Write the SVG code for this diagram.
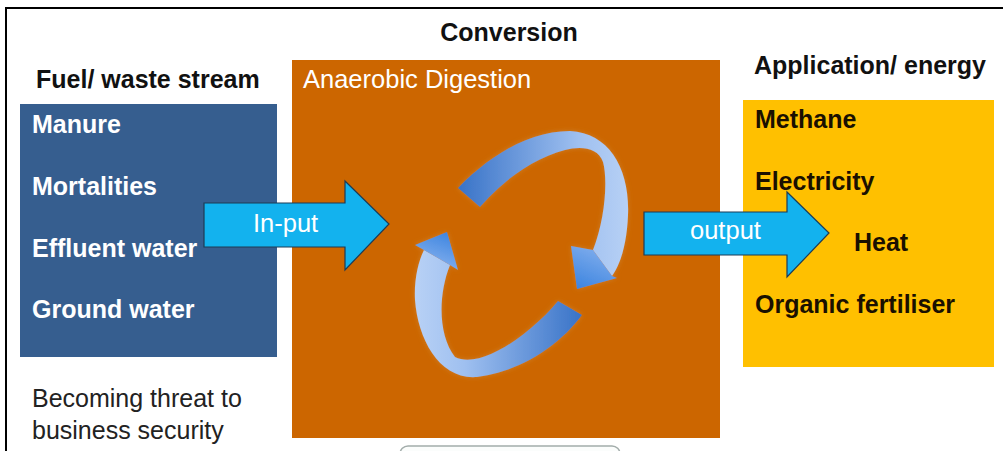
<svg xmlns="http://www.w3.org/2000/svg" width="1003" height="451" viewBox="0 0 1003 451">
<defs>
<style>
.hdr{font-family:"Liberation Sans",Arial,sans-serif;font-size:25px;font-weight:bold;fill:#111}
.itw{font-family:"Liberation Sans",Arial,sans-serif;font-size:25px;font-weight:bold;fill:#fff}
.itk{font-family:"Liberation Sans",Arial,sans-serif;font-size:25px;font-weight:bold;fill:#1a1000}
.lbl{font-family:"Liberation Sans",Arial,sans-serif;font-size:25.5px;fill:#fff}
.note{font-family:"Liberation Sans",Arial,sans-serif;font-size:25px;fill:#222}
.blk{fill:#13b2ee;stroke:#1d3b55;stroke-width:1.2}
</style>
<filter id="halo" x="-20%" y="-20%" width="140%" height="140%">
<feGaussianBlur in="SourceAlpha" stdDeviation="2.5"/>
<feColorMatrix type="matrix" values="0 0 0 0 0.62  0 0 0 0 0.28  0 0 0 0 0.05  0 0 0 0.6 0"/>
<feMerge><feMergeNode/><feMergeNode in="SourceGraphic"/></feMerge>
</filter>
<linearGradient id="gUp" gradientUnits="userSpaceOnUse" x1="460" y1="190" x2="630" y2="190">
<stop offset="0" stop-color="#3a74c8"/>
<stop offset="0.7" stop-color="#9fc0f0"/>
<stop offset="1" stop-color="#b8d1f5"/>
</linearGradient>
<linearGradient id="gUpHead" gradientUnits="userSpaceOnUse" x1="605" y1="245" x2="585" y2="290">
<stop offset="0" stop-color="#86b1ee"/>
<stop offset="1" stop-color="#3f86e0"/>
</linearGradient>
<linearGradient id="gDn" gradientUnits="userSpaceOnUse" x1="580" y1="310" x2="415" y2="310">
<stop offset="0" stop-color="#3a74c8"/>
<stop offset="0.7" stop-color="#9fc0f0"/>
<stop offset="1" stop-color="#b8d1f5"/>
</linearGradient>
<linearGradient id="gDnHead" gradientUnits="userSpaceOnUse" x1="432" y1="268" x2="445" y2="232">
<stop offset="0" stop-color="#86b1ee"/>
<stop offset="1" stop-color="#3f86e0"/>
</linearGradient>
</defs>

<rect x="0" y="0" width="1003" height="451" fill="#fff"/>
<path d="M6,451 V8 H1003" fill="none" stroke="#000" stroke-width="2"/>

<g id="title">
<text class="hdr" x="509" y="41" text-anchor="middle">Conversion</text>
</g>

<g id="fuel-stream">
<text class="hdr" x="36" y="88">Fuel/ waste stream</text>
<rect x="20" y="104" width="257" height="253" fill="#365e8f"/>
<text class="itw" x="32" y="133">Manure</text>
<text class="itw" x="32" y="195">Mortalities</text>
<text class="itw" x="32" y="257">Effluent water</text>
<text class="itw" x="32" y="318">Ground water</text>
</g>

<g id="note">
<text class="note" x="32" y="407">Becoming threat to</text>
<text class="note" x="32" y="439">business security</text>
</g>

<g id="digestion">
<rect x="292" y="60" width="428" height="378" fill="#cc6600"/>
<text class="lbl" x="303" y="88">Anaerobic Digestion</text>
<g id="cycle" filter="url(#halo)">
<path d="M458,188 C490,155 530,131 570,131 C610,133 630,170 628,215 C627,240 622,262 612,276 L593,250 C605,220 608,180 603,162 C598,147 580,146 565,150 C535,158 505,178 480,207 Z" fill="url(#gUp)"/>
<path d="M571,246 L593,250 L612,276 L617,278 L577,289 Z" fill="url(#gUpHead)"/>
<path d="M558,301 L582,315 C560,345 520,372 477,377 C440,380 418,340 415,300 C414,280 418,262 424,250 L450,265 C438,295 438,335 455,357 C480,370 530,335 558,301 Z" fill="url(#gDn)"/>
<path d="M424,250 L415,245 L447,232 L458,270 L450,265 Z" fill="url(#gDnHead)"/>
</g>
</g>

<g id="application">
<text class="hdr" x="754" y="74">Application/ energy</text>
<rect x="743" y="100" width="251" height="267" fill="#ffc000"/>
<text class="itk" x="755" y="128">Methane</text>
<text class="itk" x="755" y="190">Electricity</text>
<text class="itk" x="854" y="251">Heat</text>
<text class="itk" x="755" y="313">Organic fertiliser</text>
</g>

<g id="bottom-box">
<rect x="400" y="446" width="220" height="20" rx="8" fill="#fbfdfc" stroke="#a3adab" stroke-width="1.5"/>
</g>

<g id="connectors">
<g id="input-arrow">
<path class="blk" d="M204,203 H345 V181 L389,224 L345,270 V247 H204 Z"/>
<text class="lbl" x="253" y="232">In-put</text>
</g>
<g id="output-arrow">
<path class="blk" d="M644,212 H787 V192 L829,233 L787,277 V255 H644 Z"/>
<text class="lbl" x="690" y="239">output</text>
</g>
</g>
</svg>
